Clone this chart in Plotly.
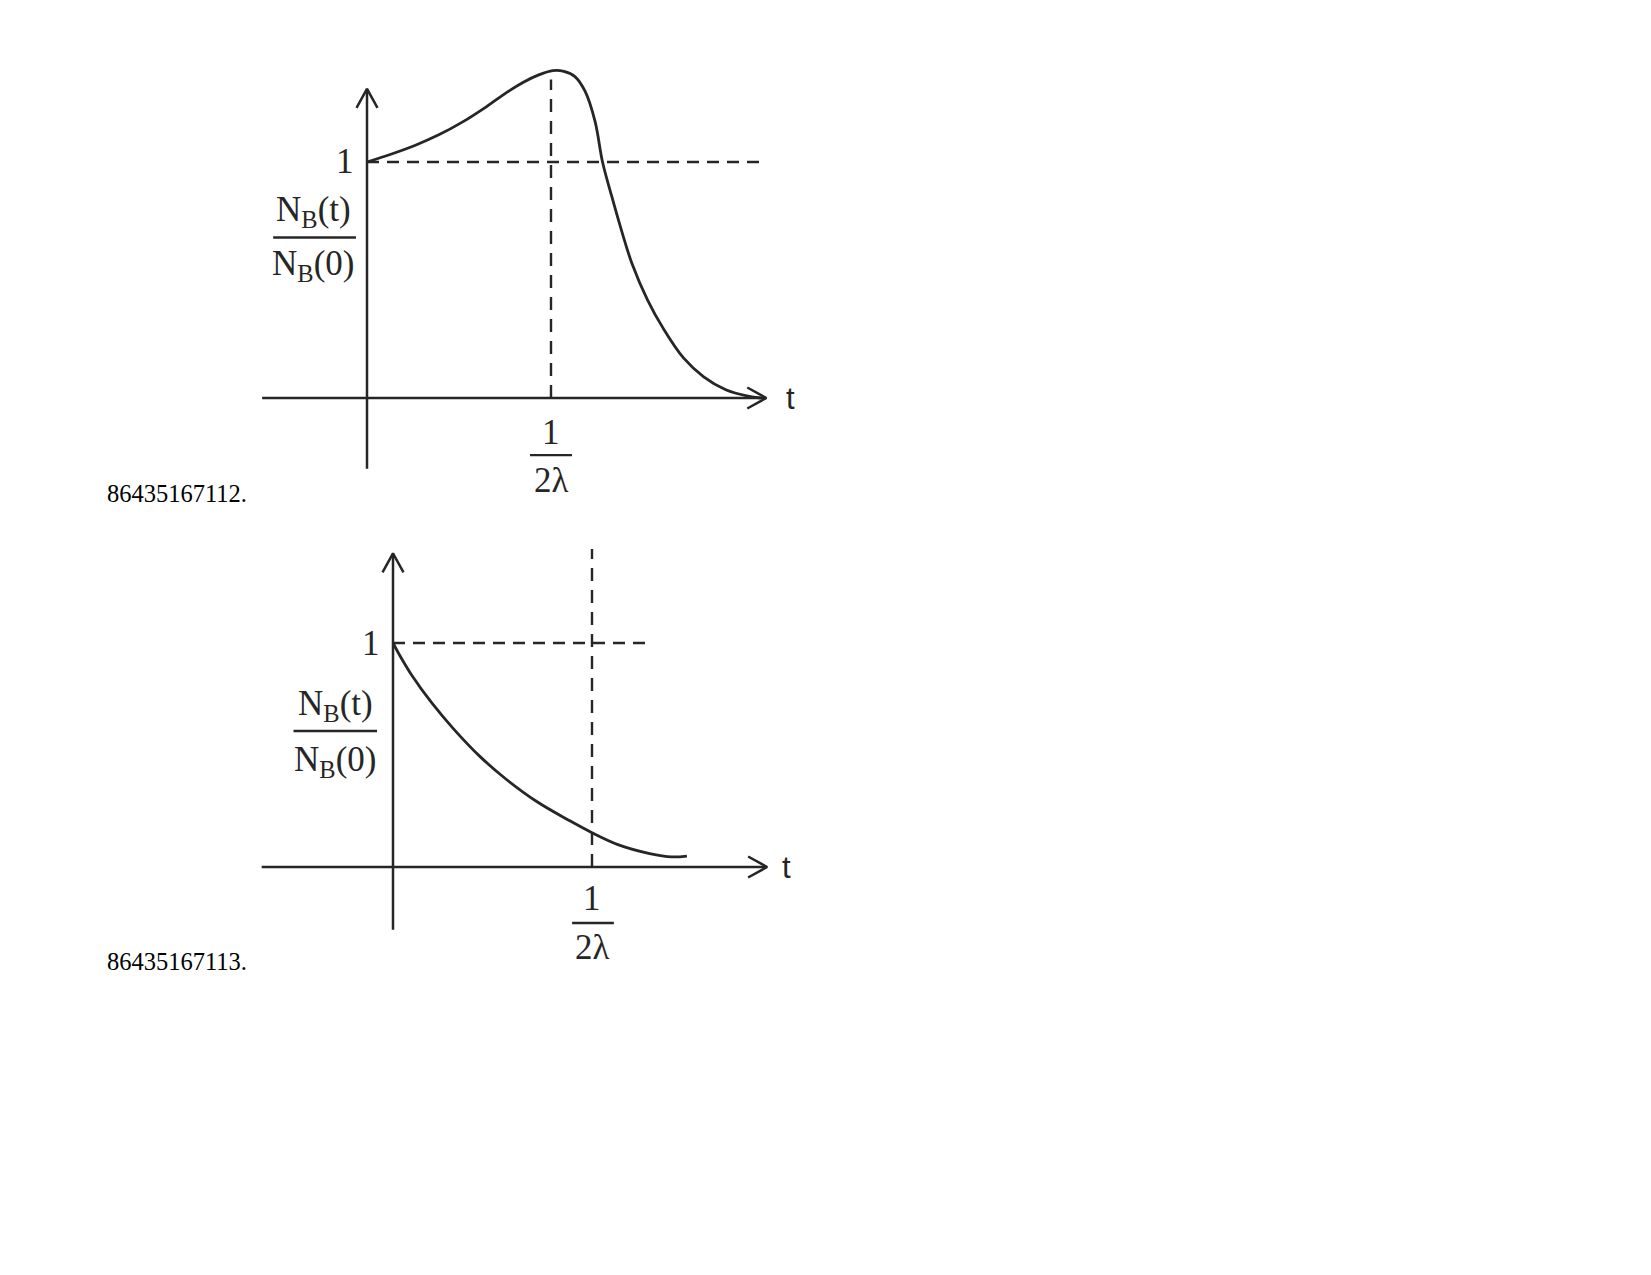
import plotly.graph_objects as go

# chart 1: N_B(t)/N_B(0) rising to a peak near t = 1/(2*lambda), then falling
t_rise = [0, 0.13, 0.26, 0.39, 0.52, 0.65, 0.75, 0.85, 0.93, 1.01, 1.07, 1.13, 1.185, 1.24,
          1.28, 1.33, 1.385, 1.44, 1.525, 1.61, 1.72, 1.83, 1.95, 2.07, 2.14]
ratio_rise = [1.0, 1.033, 1.07, 1.115, 1.17, 1.235, 1.29, 1.338, 1.368, 1.387, 1.384, 1.362, 1.30, 1.17,
              1.0, 0.855, 0.705, 0.57, 0.415, 0.295, 0.17, 0.09, 0.035, 0.008, 0.0]

# chart 2: N_B(t)/N_B(0) decaying from 1
t_decay = [0, 0.04, 0.09, 0.197, 0.303, 0.435, 0.567, 0.726, 0.885, 1.0, 1.13, 1.29, 1.40, 1.477]
ratio_decay = [1.0, 0.935, 0.862, 0.73, 0.618, 0.495, 0.393, 0.29, 0.208, 0.153, 0.10, 0.06, 0.045, 0.049]

# guide values and labels
t_mark = 1.0      # t = 1/(2 lambda)
ratio_mark = 1.0  # N_B(t)/N_B(0) = 1
tick_y = '1'
tick_x_num = '1'
tick_x_den = '2λ'
frac_num = 'N<sub>B</sub>(t)'
frac_den = 'N<sub>B</sub>(0)'
axis_name = 't'
captions = ['86435167112.', '86435167113.']

W, H = 1651, 1275
PAD = 8  # default body margin of the html page
FW, FH = W - 2 * PAD, H - 2 * PAD
INK = '#262626'
SERIF = 'Liberation Serif'
SANS = 'Liberation Sans'
HEAD_LEN, HEAD_HALF = 19, 10.5  # arrowhead size in pixels

fig = go.Figure()


def frame(ox, oy, ux, uy, left, right, top, bottom):
    # origin (ox, oy) and unit sizes in page pixels -> axis domain and range
    return dict(
        ux=ux, uy=uy,
        xdomain=[(left - PAD) / FW, (right - PAD) / FW],
        ydomain=[1 - (bottom - PAD) / FH, 1 - (top - PAD) / FH],
        xrange=[(left - ox) / ux, (right - ox) / ux],
        yrange=[(oy - bottom) / uy, (oy - top) / uy],
    )


panels = [
    dict(n='', t=t_rise, r=ratio_rise,
         f=frame(367, 398, 184, 236, 200, 900, 30, 510),
         xaxis=(-0.57, 2.17), yaxis=(-0.30, 1.31),
         hdash=2.16, vtop=1.35,
         frac=(-0.293, 0.79, 0.68, 0.56, -0.51, -0.06),
         tick=(-0.145, -0.242, -0.348, 0.886, 1.114),
         tshift=18, cap_y=493),
    dict(n='2', t=t_decay, r=ratio_decay,
         f=frame(393, 867, 199, 224, 200, 900, 520, 990),
         xaxis=(-0.66, 1.88), yaxis=(-0.28, 1.40),
         hdash=1.28, vtop=1.42,
         frac=(-0.29, 0.72, 0.607, 0.47, -0.50, -0.08),
         tick=(-0.14, -0.25, -0.36, 0.9, 1.11),
         tshift=13, cap_y=961),
]

for p in panels:
    xa, ya = 'x' + p['n'], 'y' + p['n']
    f = p['f']
    line_kw = dict(mode='lines', xaxis=xa, yaxis=ya, hoverinfo='skip')

    # dashed guides
    fig.add_trace(go.Scatter(x=[0, p['hdash']], y=[ratio_mark, ratio_mark],
                             line=dict(color=INK, width=2.4, dash='12px,8px'), **line_kw))
    fig.add_trace(go.Scatter(x=[t_mark, t_mark], y=[0, p['vtop']],
                             line=dict(color=INK, width=2.4, dash='13px,9px'), **line_kw))

    # the curve
    fig.add_trace(go.Scatter(x=p['t'], y=p['r'],
                             line=dict(color=INK, width=2.8, shape='spline', smoothing=1.0),
                             **line_kw))

    # axes with open arrowheads
    x0, x1 = p['xaxis']
    y0, y1 = p['yaxis']
    hx, hy = HEAD_LEN / f['ux'], HEAD_HALF / f['uy']
    vx, vy = HEAD_HALF / f['ux'], HEAD_LEN / f['uy']
    axis_line = dict(color=INK, width=2.5)
    fig.add_trace(go.Scatter(x=[x0, x1], y=[0, 0], line=axis_line, **line_kw))
    fig.add_trace(go.Scatter(x=[x1 - hx, x1, x1 - hx], y=[hy, 0, -hy], line=axis_line, **line_kw))
    fig.add_trace(go.Scatter(x=[0, 0], y=[y0, y1], line=axis_line, **line_kw))
    fig.add_trace(go.Scatter(x=[-vx, 0, vx], y=[y1 - vy, y1, y1 - vy], line=axis_line, **line_kw))

    font = dict(family=SERIF, size=35, color=INK)
    fig.add_annotation(x=x1, y=0, xref=xa, yref=ya, text=axis_name, showarrow=False,
                       xanchor='left', xshift=p['tshift'],
                       font=dict(family=SANS, size=31, color=INK))
    fig.add_annotation(x=0, y=ratio_mark, xref=xa, yref=ya, text=tick_y, showarrow=False,
                       xanchor='right', xshift=-11, font=font)

    # fraction label on the y axis
    fx, fy_num, fy_bar, fy_den, fb0, fb1 = p['frac']
    fig.add_annotation(x=fx, y=fy_num, xref=xa, yref=ya, text=frac_num,
                       showarrow=False, font=font)
    fig.add_annotation(x=fx, y=fy_den, xref=xa, yref=ya, text=frac_den,
                       showarrow=False, font=font)
    fig.add_shape(type='line', xref=xa, yref=ya, x0=fb0, x1=fb1, y0=fy_bar, y1=fy_bar,
                  line=dict(color=INK, width=2.4))

    # 1/(2 lambda) tick label
    ty_num, ty_bar, ty_den, tb0, tb1 = p['tick']
    fig.add_annotation(x=t_mark, y=ty_num, xref=xa, yref=ya, text=tick_x_num,
                       showarrow=False, font=font)
    fig.add_annotation(x=t_mark, y=ty_den, xref=xa, yref=ya, text=tick_x_den,
                       showarrow=False, font=font)
    fig.add_shape(type='line', xref=xa, yref=ya, x0=tb0, x1=tb1, y0=ty_bar, y1=ty_bar,
                  line=dict(color=INK, width=2.4))

    ax_style = dict(visible=False, fixedrange=True)
    fig.update_layout({
        'xaxis' + p['n']: dict(domain=f['xdomain'], range=f['xrange'], anchor=ya, **ax_style),
        'yaxis' + p['n']: dict(domain=f['ydomain'], range=f['yrange'], anchor=xa, **ax_style),
    })

for cap, p in zip(captions, panels):
    fig.add_annotation(x=(105 - PAD) / FW, y=1 - (p['cap_y'] - PAD) / FH,
                       xref='paper', yref='paper',
                       text=cap, showarrow=False, xanchor='left', yanchor='middle',
                       font=dict(family=SERIF, size=24.5, color='black'))

fig.update_layout(
    width=FW, height=FH,
    margin=dict(l=0, r=0, t=0, b=0),
    paper_bgcolor='white', plot_bgcolor='rgba(0,0,0,0)',
    showlegend=False,
)

fig.write_html('out.html')
